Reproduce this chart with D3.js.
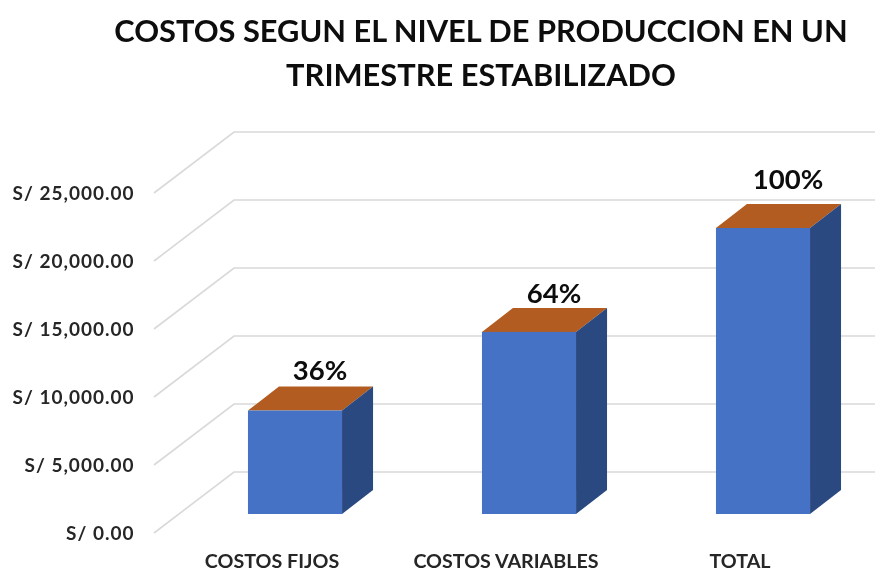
<!DOCTYPE html>
<html><head><meta charset="utf-8">
<script src="https://cdn.jsdelivr.net/npm/d3@7"></script>
<style>html,body{margin:0;padding:0;background:#fff}svg{display:block}text{font-family:Lato,"Open Sans",sans-serif}</style>
</head><body><svg id="c" width="875" height="572"></svg>
<script>
const titleLines = ["COSTOS SEGUN EL NIVEL DE PRODUCCION EN UN", "TRIMESTRE ESTABILIZADO"];
const categories = ["COSTOS FIJOS", "COSTOS VARIABLES", "TOTAL"];
const values = [7610, 13390, 21030];
const shares = ["36%", "64%", "100%"];
const ticks = [0, 5000, 10000, 15000, 20000, 25000];
const labelLift = [31, 29, 39];

const svg = d3.select("#c");
const W = 875;
const defs = svg.append("defs");
defs.append("filter").attr("id", "soft").append("feGaussianBlur").attr("stdDeviation", 0.4);
const root = svg.append("g").attr("filter", "url(#soft)");
root.append("rect").attr("width", W).attr("height", 572).attr("fill", "#fff");

const frontZero = 533, pxPer25k = 340;
const y = d3.scaleLinear().domain([0, 25000]).range([frontZero, frontZero - pxPer25k]);
const x = d3.scaleBand().domain(categories).range([178, 880]).paddingInner(0.598).paddingOuter(0.299);
const floorDx = 80, floorDy = 61, floorLeft = 154;
const barDx = 31, barDy = 24, barBase = 514;
const h = v => y(0) - y(v);

root.append("g").selectAll("text").data(titleLines).join("text")
  .attr("x", 481).attr("y", (d, i) => 42 + i * 44)
  .attr("text-anchor", "middle").attr("font-size", 30.8).attr("font-weight", 700).attr("fill", "#0d0d0d")
  .text(d => d);

root.append("g").selectAll("polyline").data(ticks).join("polyline")
  .attr("fill", "none").attr("stroke", "#d9d9d9").attr("stroke-width", 1.6)
  .attr("points", d => [[floorLeft, y(d)], [floorLeft + floorDx, y(d) - floorDy], [W, y(d) - floorDy]].join(" "));

const fmt = d3.format(",.2f");
root.append("g").selectAll("text").data(ticks).join("text")
  .attr("x", 134.5).attr("y", d => y(d) + 7)
  .attr("text-anchor", "end").attr("font-size", 19).attr("font-weight", 700).attr("fill", "#262626")
  .attr("letter-spacing", 1)
  .text(d => "S/ " + fmt(d));

const bars = root.append("g").selectAll("g").data(categories).join("g");
const bw = x.bandwidth();
bars.append("polygon").attr("fill", "#b35c20")
  .attr("points", (c, i) => { const l = x(c), t = barBase - h(values[i]);
    return [[l, t], [l + barDx, t - barDy], [l + bw + barDx, t - barDy], [l + bw, t]].join(" "); });
bars.append("polygon").attr("fill", "#2a4880")
  .attr("points", (c, i) => { const r = x(c) + bw, t = barBase - h(values[i]);
    return [[r, t], [r + barDx, t - barDy], [r + barDx, barBase - barDy], [r, barBase]].join(" "); });
bars.append("rect").attr("fill", "#4472c4")
  .attr("x", c => x(c)).attr("width", bw)
  .attr("y", (c, i) => barBase - h(values[i])).attr("height", (c, i) => h(values[i]));
bars.append("text")
  .attr("x", c => x(c) + bw / 2 + 25).attr("y", (c, i) => barBase - h(values[i]) - labelLift[i])
  .attr("text-anchor", "middle").attr("font-size", 27.5).attr("font-weight", 700).attr("fill", "#0d0d0d")
  .text((c, i) => shares[i]);
bars.append("text")
  .attr("x", c => x(c) + bw / 2 - 23).attr("y", 568)
  .attr("text-anchor", "middle").attr("font-size", 19.7).attr("font-weight", 700).attr("fill", "#262626")
  .text(c => c);
</script></body></html>
